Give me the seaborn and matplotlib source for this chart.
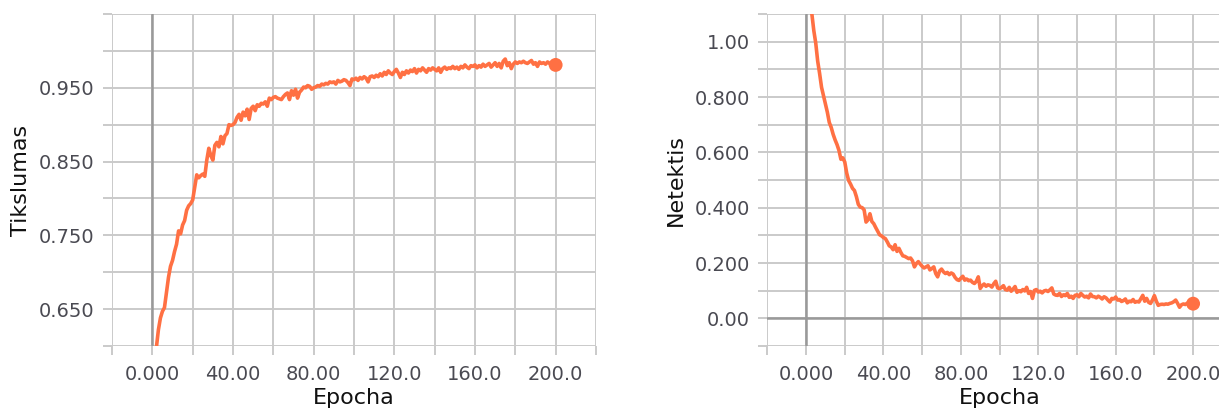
import numpy as np
import pandas as pd
import matplotlib
matplotlib.use("Agg")
import matplotlib.pyplot as plt
from matplotlib.ticker import FixedLocator
import seaborn as sns

# Dane (epoki 1..200)
epochs = list(range(1, 201))

accuracy = [
    0.555, 0.598, 0.622, 0.638, 0.647, 0.652, 0.672, 0.693, 0.708, 0.716,
    0.728, 0.738, 0.756, 0.752, 0.764, 0.770, 0.784, 0.790, 0.793, 0.798,
    0.815, 0.832, 0.828, 0.831, 0.833, 0.830, 0.852, 0.868, 0.858, 0.852,
    0.872, 0.876, 0.870, 0.884, 0.874, 0.885, 0.888, 0.900, 0.899, 0.900,
    0.903, 0.910, 0.914, 0.906, 0.917, 0.912, 0.921, 0.907, 0.922, 0.925,
    0.919, 0.927, 0.925, 0.929, 0.928, 0.931, 0.925, 0.936, 0.934, 0.937,
    0.938, 0.936, 0.935, 0.934, 0.938, 0.941, 0.943, 0.934, 0.946, 0.940,
    0.948, 0.936, 0.944, 0.947, 0.951, 0.950, 0.953, 0.952, 0.948, 0.950,
    0.951, 0.953, 0.952, 0.955, 0.954, 0.956, 0.955, 0.958, 0.957, 0.958,
    0.955, 0.960, 0.958, 0.959, 0.961, 0.960, 0.957, 0.953, 0.962, 0.961,
    0.963, 0.960, 0.964, 0.962, 0.965, 0.963, 0.958, 0.965, 0.966, 0.964,
    0.967, 0.965, 0.969, 0.966, 0.971, 0.968, 0.973, 0.970, 0.968, 0.972,
    0.975, 0.970, 0.964, 0.971, 0.968, 0.973, 0.970, 0.974, 0.972, 0.976,
    0.970, 0.975, 0.973, 0.977, 0.974, 0.971, 0.976, 0.974, 0.977, 0.975,
    0.973, 0.977, 0.971, 0.976, 0.978, 0.975, 0.977, 0.976, 0.979, 0.976,
    0.978, 0.975, 0.979, 0.977, 0.981, 0.978, 0.976, 0.980, 0.979, 0.981,
    0.977, 0.980, 0.978, 0.982, 0.979, 0.981, 0.983, 0.978, 0.981, 0.984,
    0.979, 0.983, 0.977, 0.986, 0.989, 0.980, 0.984, 0.976, 0.982, 0.985,
    0.983, 0.985, 0.984, 0.986, 0.984, 0.983, 0.985, 0.987, 0.982, 0.984,
    0.979, 0.985, 0.983, 0.984, 0.982, 0.985, 0.983, 0.980, 0.982, 0.981,
]

loss = [
    1.320, 1.180, 1.100, 1.040, 0.995, 0.930, 0.885, 0.835, 0.805, 0.775,
    0.745, 0.708, 0.690, 0.665, 0.645, 0.628, 0.607, 0.575, 0.580, 0.565,
    0.525, 0.498, 0.485, 0.470, 0.462, 0.440, 0.412, 0.402, 0.400, 0.392,
    0.348, 0.356, 0.378, 0.350, 0.342, 0.328, 0.315, 0.302, 0.298, 0.292,
    0.288, 0.276, 0.262, 0.258, 0.248, 0.266, 0.242, 0.253, 0.238, 0.226,
    0.224, 0.220, 0.216, 0.218, 0.208, 0.186, 0.198, 0.205, 0.196, 0.188,
    0.182, 0.186, 0.190, 0.175, 0.180, 0.186, 0.162, 0.150, 0.171, 0.178,
    0.168, 0.162, 0.166, 0.158, 0.164, 0.160, 0.148, 0.140, 0.137, 0.145,
    0.152, 0.138, 0.142, 0.136, 0.138, 0.130, 0.126, 0.134, 0.150, 0.108,
    0.118, 0.124, 0.116, 0.121, 0.119, 0.113, 0.125, 0.134, 0.110, 0.107,
    0.112, 0.118, 0.104, 0.102, 0.112, 0.098, 0.106, 0.115, 0.094, 0.100,
    0.096, 0.104, 0.099, 0.112, 0.090, 0.097, 0.072, 0.101, 0.104, 0.095,
    0.098, 0.092, 0.099, 0.101, 0.097, 0.103, 0.110, 0.088, 0.084, 0.083,
    0.090, 0.079, 0.085, 0.082, 0.090, 0.076, 0.080, 0.072, 0.083, 0.085,
    0.078, 0.090, 0.083, 0.077, 0.080, 0.074, 0.088, 0.079, 0.078, 0.074,
    0.080, 0.076, 0.070, 0.078, 0.074, 0.066, 0.059, 0.072, 0.070, 0.077,
    0.066, 0.068, 0.061, 0.064, 0.070, 0.056, 0.062, 0.060, 0.068, 0.058,
    0.061, 0.059, 0.071, 0.083, 0.062, 0.072, 0.058, 0.054, 0.066, 0.082,
    0.062, 0.047, 0.050, 0.051, 0.050, 0.052, 0.051, 0.054, 0.056, 0.060,
    0.066, 0.054, 0.040, 0.049, 0.052, 0.050, 0.055, 0.048, 0.052, 0.053,
]

# Etykiety osi
x_ticks = [0, 40, 80, 120, 160, 200]
x_tick_labels = ["0.000", "40.00", "80.00", "120.0", "160.0", "200.0"]
acc_ticks = [0.65, 0.75, 0.85, 0.95]
acc_tick_labels = ["0.650", "0.750", "0.850", "0.950"]
loss_ticks = [0.0, 0.2, 0.4, 0.6, 0.8, 1.0]
loss_tick_labels = ["0.00", "0.200", "0.400", "0.600", "0.800", "1.00"]

LINE_COLOR = "#ff7043"
GRID_COLOR = "#cacaca"
ZERO_COLOR = "#999999"
TICK_TEXT = "#4a4a52"

sns.set_style("white")
plt.rcParams["font.family"] = ["DejaVu Sans"]

df = pd.DataFrame({"Epocha": epochs, "Tikslumas": accuracy, "Netektis": loss})

fig = plt.figure(figsize=(12.19, 4.12), dpi=100)
ax1 = fig.add_axes([0.0919, 0.1602, 0.3970, 0.8058])
ax2 = fig.add_axes([0.6295, 0.1602, 0.3810, 0.8058])


def style_axis(ax, ylim, yticks, ylabels, yminor, ylabel, zero_y=False):
    ax.set_xlim(-20, 220)
    ax.set_ylim(*ylim)
    ax.set_xticks(x_ticks)
    ax.set_xticklabels(x_tick_labels)
    ax.xaxis.set_minor_locator(FixedLocator([-20, 20, 60, 100, 140, 180, 220]))
    ax.set_yticks(yticks)
    ax.set_yticklabels(ylabels)
    ax.yaxis.set_minor_locator(FixedLocator(yminor))
    ax.grid(True, which="both", color=GRID_COLOR, linewidth=1.4, zorder=0)
    ax.set_axisbelow(True)
    for s in ax.spines.values():
        s.set_visible(False)
    ax.tick_params(which="both", direction="out", length=6.5, width=1.4,
                   bottom=True, left=True,
                   color=GRID_COLOR, labelsize=14, labelcolor=TICK_TEXT)
    ax.tick_params(axis="y", which="major", pad=6)
    ax.tick_params(axis="x", which="major", pad=7)
    ax.axvline(0, color=ZERO_COLOR, linewidth=1.8, zorder=1)
    if zero_y:
        ax.axhline(0, color=ZERO_COLOR, linewidth=1.8, zorder=1)
    ax.set_xlabel("Epocha", fontsize=16, color="#111111", labelpad=3)
    ax.set_ylabel(ylabel, fontsize=16, color="#111111", labelpad=6)


# Wykres tikslumo
sns.lineplot(data=df, x="Epocha", y="Tikslumas", ax=ax1, color=LINE_COLOR,
             linewidth=2.6, zorder=3)
sns.scatterplot(x=[epochs[-1]], y=[accuracy[-1]], ax=ax1, color=LINE_COLOR,
                s=100, edgecolor="none", zorder=4, clip_on=False)
style_axis(ax1, (0.6, 1.05), acc_ticks, acc_tick_labels,
           [0.6, 0.7, 0.8, 0.9, 1.0, 1.05], "Tikslumas")

# Wykres netekties
sns.lineplot(data=df, x="Epocha", y="Netektis", ax=ax2, color=LINE_COLOR,
             linewidth=2.6, zorder=3)
sns.scatterplot(x=[epochs[-1]], y=[loss[-1]], ax=ax2, color=LINE_COLOR,
                s=100, edgecolor="none", zorder=4, clip_on=False)
style_axis(ax2, (-0.1, 1.1), loss_ticks, loss_tick_labels,
           [-0.1, 0.1, 0.3, 0.5, 0.7, 0.9, 1.1], "Netektis", zero_y=True)

fig.savefig("out.png", dpi=100)
